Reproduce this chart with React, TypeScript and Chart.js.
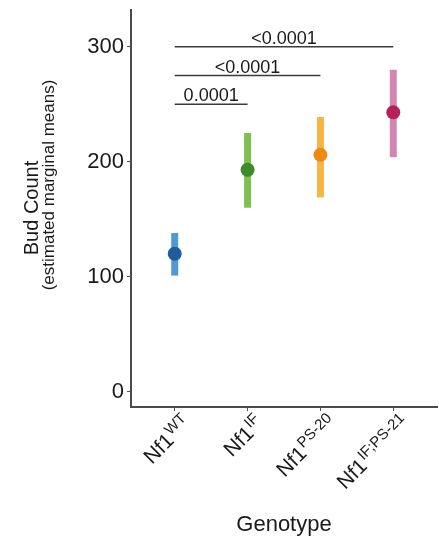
import { useEffect, useRef } from 'react';
import { Chart, registerables } from 'chart.js';

Chart.register(...registerables);

const FONT = '"Liberation Sans", Arial, Helvetica, sans-serif';

// Data
const genotypeMain = 'Nf1';
const genotypeSup = ['WT', 'IF', 'PS-20', 'IF;PS-21'];
const means = [120, 193, 206, 243];
const ciLow = [101, 160, 169, 204];
const ciHigh = [138, 225, 239, 280];
const yTicks = [0, 100, 200, 300];
const bracketFrom = [1, 1, 1];
const bracketTo = [2, 3, 4];
const bracketY = [250, 275, 300];
const bracketLabels = ['0.0001', '<0.0001', '<0.0001'];

// Styles
const pointColors = ['#1f5c9e', '#3d8b2a', '#ee8a12', '#b5215c'];
const barColors = ['#4f9ad4', '#7fc050', '#f8b446', '#d486b3'];

export default function App() {
  const ref = useRef<HTMLCanvasElement>(null);

  useEffect(() => {
    document.body.style.margin = '0';
    const canvas = ref.current;
    if (!canvas) return;

    const datasets: any[] = [];
    datasets.push({
      label: 'means',
      data: means.map((m, i) => ({ x: i + 1, y: m })),
      pointRadius: 7,
      pointHoverRadius: 7,
      pointBackgroundColor: pointColors,
      pointBorderWidth: 0,
      showLine: false,
    });
    means.forEach((_, i) => {
      datasets.push({
        label: 'ci' + i,
        data: [
          { x: i + 1, y: ciLow[i] },
          { x: i + 1, y: ciHigh[i] },
        ],
        showLine: true,
        borderColor: barColors[i],
        borderWidth: 7,
        borderCapStyle: 'butt',
        pointRadius: 0,
      });
    });
    bracketFrom.forEach((f, i) => {
      datasets.push({
        label: 'br' + i,
        data: [
          { x: f, y: bracketY[i] },
          { x: bracketTo[i], y: bracketY[i] },
        ],
        showLine: true,
        borderColor: '#3a3a3a',
        borderWidth: 1.5,
        pointRadius: 0,
      });
    });

    const textPlugin = {
      id: 'customText',
      afterDraw(chart: any) {
        const ctx = chart.ctx;
        const xs = chart.scales.x;
        const ys = chart.scales.y;
        const area = chart.chartArea;
        ctx.save();
        ctx.fillStyle = '#1a1a1a';

        // bracket labels
        ctx.font = `18px ${FONT}`;
        ctx.textAlign = 'center';
        ctx.textBaseline = 'alphabetic';
        bracketLabels.forEach((lab, i) => {
          const mx = (xs.getPixelForValue(bracketFrom[i]) + xs.getPixelForValue(bracketTo[i])) / 2;
          const py = ys.getPixelForValue(bracketY[i]);
          ctx.fillText(lab, mx, py - 3);
        });

        // x tick labels (rotated with superscripts)
        genotypeSup.forEach((sup, i) => {
          const px = xs.getPixelForValue(i + 1);
          ctx.save();
          ctx.translate(px + 7, area.bottom + 7);
          ctx.rotate(-Math.PI / 4);
          ctx.textAlign = 'left';
          ctx.textBaseline = 'alphabetic';
          ctx.font = `21px ${FONT}`;
          const wMain = ctx.measureText(genotypeMain).width;
          ctx.font = `15px ${FONT}`;
          const wSup = ctx.measureText(sup).width;
          ctx.font = `21px ${FONT}`;
          ctx.fillText(genotypeMain, -(wMain + wSup + 1), 15);
          ctx.font = `15px ${FONT}`;
          ctx.fillText(sup, -wSup, 7);
          ctx.restore();
        });

        // x title
        ctx.font = `22px ${FONT}`;
        ctx.textAlign = 'center';
        ctx.fillText('Genotype', (area.left + area.right) / 2, 531);

        // y title
        ctx.save();
        ctx.translate(38, 208);
        ctx.rotate(-Math.PI / 2);
        ctx.font = `20px ${FONT}`;
        ctx.textAlign = 'center';
        ctx.fillText('Bud Count', 0, 0);
        ctx.restore();
        ctx.save();
        ctx.translate(54, 185);
        ctx.rotate(-Math.PI / 2);
        ctx.font = `17px ${FONT}`;
        ctx.textAlign = 'center';
        ctx.fillText('(estimated marginal means)', 0, 0);
        ctx.restore();

        ctx.restore();
      },
    };

    const chart = new Chart(canvas, {
      type: 'scatter',
      data: { datasets },
      options: {
        animation: false,
        responsive: false,
        maintainAspectRatio: false,
        layout: { autoPadding: false, padding: { top: 10, right: 2, left: 0, bottom: 0 } },
        plugins: { legend: { display: false }, tooltip: { enabled: false } },
        scales: {
          x: {
            type: 'linear',
            min: 0.4,
            max: 4.6,
            afterBuildTicks: (scale: any) => {
              scale.ticks = genotypeSup.map((_, i) => ({ value: i + 1 }));
            },
            afterFit: (scale: any) => {
              scale.height = 539 - 407;
              scale.paddingLeft = 0;
              scale.paddingRight = 0;
            },
            ticks: { display: false },
            grid: {
              display: true,
              drawOnChartArea: false,
              drawTicks: true,
              tickLength: 4,
              color: '#555',
              lineWidth: 1,
            },
            border: { display: true, color: '#4a4a4a', width: 2 },
          },
          y: {
            type: 'linear',
            min: -13.3,
            max: 332,
            afterBuildTicks: (scale: any) => {
              scale.ticks = yTicks.map((v) => ({ value: v }));
            },
            afterFit: (scale: any) => {
              scale.width = 131;
              scale.paddingTop = 0;
              scale.paddingBottom = 0;
            },
            ticks: {
              color: '#1a1a1a',
              font: { family: FONT, size: 22 },
              padding: 3,
            },
            grid: {
              display: true,
              drawOnChartArea: false,
              drawTicks: true,
              tickLength: 4,
              color: '#555',
              lineWidth: 1,
            },
            border: { display: true, color: '#4a4a4a', width: 2 },
          },
        },
      },
      plugins: [textPlugin],
    });

    return () => chart.destroy();
  }, []);

  return (
    <div style={{ position: 'absolute', left: 0, top: 0, width: 439, height: 539, background: '#fff' }}>
      <canvas ref={ref} width={439} height={539} style={{ width: 439, height: 539 }} />
    </div>
  );
}
